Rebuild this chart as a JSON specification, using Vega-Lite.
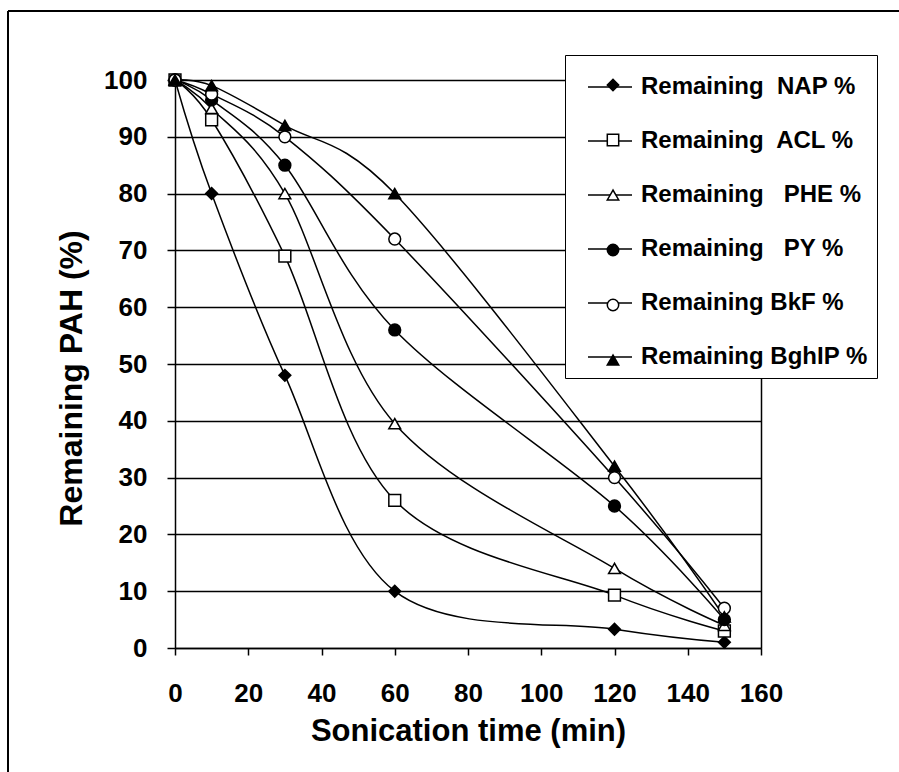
{
  "$schema": "https://vega.github.io/schema/vega-lite/v6.json",
  "autosize": "none",
  "padding": {"left": 8, "top": 11, "right": 0, "bottom": 0},
  "width": 891,
  "height": 761,
  "background": "white",
  "config": {
    "view": {"stroke": "black", "strokeWidth": 2, "strokeDash": [891, 1652, 761, 0]},
    "font": "Liberation Sans"
  },
  "data": {
    "values": [
      {"series": "Remaining\u00a0 NAP %", "t": 0, "v": 100},
      {"series": "Remaining\u00a0 NAP %", "t": 10, "v": 80},
      {"series": "Remaining\u00a0 NAP %", "t": 30, "v": 48},
      {"series": "Remaining\u00a0 NAP %", "t": 60, "v": 10},
      {"series": "Remaining\u00a0 NAP %", "t": 120, "v": 3.3},
      {"series": "Remaining\u00a0 NAP %", "t": 150, "v": 1},
      {"series": "Remaining\u00a0 ACL %", "t": 0, "v": 100},
      {"series": "Remaining\u00a0 ACL %", "t": 10, "v": 93},
      {"series": "Remaining\u00a0 ACL %", "t": 30, "v": 69},
      {"series": "Remaining\u00a0 ACL %", "t": 60, "v": 26},
      {"series": "Remaining\u00a0 ACL %", "t": 120, "v": 9.3},
      {"series": "Remaining\u00a0 ACL %", "t": 150, "v": 3},
      {"series": "Remaining\u00a0\u00a0 PHE %", "t": 0, "v": 100},
      {"series": "Remaining\u00a0\u00a0 PHE %", "t": 10, "v": 95},
      {"series": "Remaining\u00a0\u00a0 PHE %", "t": 30, "v": 80},
      {"series": "Remaining\u00a0\u00a0 PHE %", "t": 60, "v": 39.5},
      {"series": "Remaining\u00a0\u00a0 PHE %", "t": 120, "v": 14},
      {"series": "Remaining\u00a0\u00a0 PHE %", "t": 150, "v": 4},
      {"series": "Remaining\u00a0\u00a0 PY %", "t": 0, "v": 100},
      {"series": "Remaining\u00a0\u00a0 PY %", "t": 10, "v": 96.5},
      {"series": "Remaining\u00a0\u00a0 PY %", "t": 30, "v": 85},
      {"series": "Remaining\u00a0\u00a0 PY %", "t": 60, "v": 56},
      {"series": "Remaining\u00a0\u00a0 PY %", "t": 120, "v": 25},
      {"series": "Remaining\u00a0\u00a0 PY %", "t": 150, "v": 5},
      {"series": "Remaining BkF %", "t": 0, "v": 100},
      {"series": "Remaining BkF %", "t": 10, "v": 97.5},
      {"series": "Remaining BkF %", "t": 30, "v": 90},
      {"series": "Remaining BkF %", "t": 60, "v": 72},
      {"series": "Remaining BkF %", "t": 120, "v": 30},
      {"series": "Remaining BkF %", "t": 150, "v": 7},
      {"series": "Remaining BghIP %", "t": 0, "v": 100},
      {"series": "Remaining BghIP %", "t": 10, "v": 99},
      {"series": "Remaining BghIP %", "t": 30, "v": 92},
      {"series": "Remaining BghIP %", "t": 60, "v": 80},
      {"series": "Remaining BghIP %", "t": 120, "v": 32},
      {"series": "Remaining BghIP %", "t": 150, "v": 5.5}
    ]
  },
  "layer": [
    {
      "mark": {"type": "line", "interpolate": "cardinal", "strokeWidth": 1.5},
      "encoding": {
        "x": {
          "field": "t", "type": "quantitative",
          "scale": {"domain": [0, 160], "range": [167, 753], "nice": false, "zero": false},
          "axis": {
            "title": "Sonication time (min)",
            "values": [0, 20, 40, 60, 80, 100, 120, 140, 160],
            "offset": -124,
            "grid": false,
            "domainColor": "black", "domainWidth": 1.5,
            "tickColor": "black", "tickSize": 7, "tickWidth": 1.5,
            "labelFont": "Liberation Sans", "labelFontWeight": "bold", "labelFontSize": 26,
            "labelColor": "black", "labelPadding": 25, "labelFlush": false, "labelOverlap": false,
            "titleFont": "Liberation Sans", "titleFontWeight": "bold", "titleFontSize": 31,
            "titleColor": "black", "titlePadding": 10
          }
        },
        "y": {
          "field": "v", "type": "quantitative",
          "scale": {"domain": [0, 100], "range": [637, 69], "nice": false},
          "axis": {
            "title": "Remaining PAH (%)",
            "values": [0, 10, 20, 30, 40, 50, 60, 70, 80, 90, 100],
            "offset": -167,
            "grid": true, "gridColor": "black", "gridWidth": 1.5, "gridOpacity": 1,
            "domainColor": "black", "domainWidth": 1.5,
            "tickColor": "black", "tickSize": 8, "tickWidth": 1.5,
            "labelFont": "Liberation Sans", "labelFontWeight": "bold", "labelFontSize": 26,
            "labelColor": "black", "labelPadding": 20, "labelFlush": false, "labelOverlap": false,
            "titleFont": "Liberation Sans", "titleFontWeight": "bold", "titleFontSize": 32,
            "titleColor": "black", "titlePadding": 15, "titleY": 367
          }
        },
        "color": {
          "field": "series", "type": "nominal",
          "sort": ["Remaining\u00a0 NAP %", "Remaining\u00a0 ACL %", "Remaining\u00a0\u00a0 PHE %", "Remaining\u00a0\u00a0 PY %", "Remaining BkF %", "Remaining BghIP %"],
          "scale": {"range": ["black", "black", "black", "black", "black", "black"]},
          "legend": {
            "orient": "none", "legendX": 557, "legendY": 44,
            "title": null,
            "symbolType": "stroke", "symbolSize": 1936, "symbolStrokeWidth": 1.5, "symbolStrokeColor": "black",
            "strokeColor": "black", "fillColor": "white", "padding": 9,
            "symbolOffset": 13, "labelOffset": 8,
            "labelFont": "Liberation Sans", "labelFontWeight": "bold", "labelFontSize": 24,
            "labelColor": "black", "labelLimit": 0, "rowPadding": 19
          }
        }
      }
    },
    {
      "mark": {"type": "point", "filled": true, "size": 140, "strokeWidth": 1.5, "opacity": 1},
      "encoding": {
        "x": {"field": "t", "type": "quantitative"},
        "y": {
          "field": "v", "type": "quantitative",
          "axis": {
            "orient": "right", "offset": -138, "labels": false, "ticks": false, "grid": false,
            "domainColor": "black", "domainWidth": 1.5, "title": null
          }
        },
        "shape": {
          "field": "series", "type": "nominal",
          "scale": {
            "domain": ["Remaining\u00a0 NAP %", "Remaining\u00a0 ACL %", "Remaining\u00a0\u00a0 PHE %", "Remaining\u00a0\u00a0 PY %", "Remaining BkF %", "Remaining BghIP %"],
            "range": ["diamond", "square", "triangle-up", "circle", "circle", "triangle-up"]
          },
          "legend": {
            "orient": "none", "legendX": 557, "legendY": 44,
            "title": null, "padding": 18,
            "symbolSize": 130, "symbolStrokeWidth": 1.5,
            "symbolOffset": 18, "labelOffset": 9, "labelOpacity": 0, "labelExpr": "''",
            "labelFont": "Liberation Sans", "labelFontWeight": "bold", "labelFontSize": 24,
            "labelLimit": 0, "rowPadding": 31
          }
        },
        "fill": {
          "field": "series", "type": "nominal",
          "scale": {
            "domain": ["Remaining\u00a0 NAP %", "Remaining\u00a0 ACL %", "Remaining\u00a0\u00a0 PHE %", "Remaining\u00a0\u00a0 PY %", "Remaining BkF %", "Remaining BghIP %"],
            "range": ["black", "white", "white", "black", "white", "black"]
          },
          "legend": {
            "orient": "none", "legendX": 557, "legendY": 44,
            "title": null, "padding": 18,
            "symbolSize": 130, "symbolStrokeWidth": 1.5,
            "symbolOffset": 18, "labelOffset": 9, "labelOpacity": 0, "labelExpr": "''",
            "labelFont": "Liberation Sans", "labelFontWeight": "bold", "labelFontSize": 24,
            "labelLimit": 0, "rowPadding": 31
          }
        },
        "stroke": {
          "field": "series", "type": "nominal",
          "scale": {
            "domain": ["Remaining\u00a0 NAP %", "Remaining\u00a0 ACL %", "Remaining\u00a0\u00a0 PHE %", "Remaining\u00a0\u00a0 PY %", "Remaining BkF %", "Remaining BghIP %"],
            "range": ["black", "black", "black", "black", "black", "black"]
          },
          "legend": {
            "orient": "none", "legendX": 557, "legendY": 44,
            "title": null, "padding": 18,
            "symbolSize": 130, "symbolStrokeWidth": 1.5,
            "symbolOffset": 18, "labelOffset": 9, "labelOpacity": 0, "labelExpr": "''",
            "labelFont": "Liberation Sans", "labelFontWeight": "bold", "labelFontSize": 24,
            "labelLimit": 0, "rowPadding": 31
          }
        }
      }
    }
  ],
  "resolve": {"axis": {"y": "independent"}}
}
